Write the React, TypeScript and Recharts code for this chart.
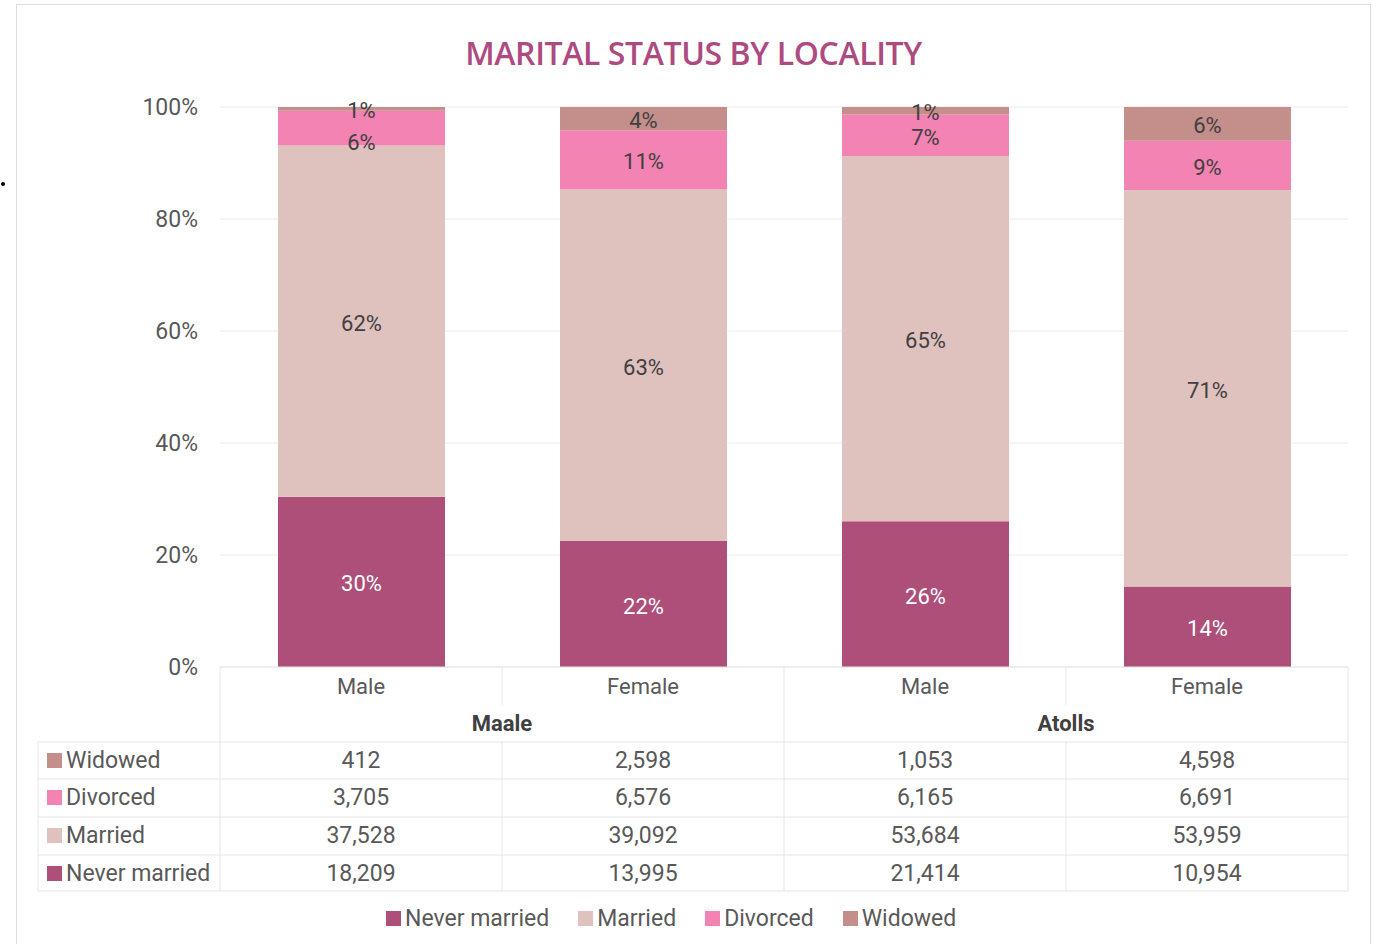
import React from 'react';
import {
  BarChart,
  Bar,
  XAxis,
  YAxis,
  CartesianGrid,
  Legend,
  LabelList
} from 'recharts';

const categories = ['Male', 'Female', 'Male', 'Female'];
const localities = ['Maale', 'Atolls'];

const neverMarried = [18209, 13995, 21414, 10954];
const married = [37528, 39092, 53684, 53959];
const divorced = [3705, 6576, 6165, 6691];
const widowed = [412, 2598, 1053, 4598];

// percentage labels as printed on the bars
const neverMarriedPct = ['30%', '22%', '26%', '14%'];
const marriedPct = ['62%', '63%', '65%', '71%'];
const divorcedPct = ['6%', '11%', '7%', '9%'];
const widowedPct = ['1%', '4%', '1%', '6%'];

const yTicks = [0, 0.2, 0.4, 0.6, 0.8, 1];

const COLORS = {
  never: '#ad4f78',
  married: '#dfc1be',
  divorced: '#f283b3',
  widowed: '#c48e8a'
};

const data = categories.map((name, i) => ({
  name,
  never: neverMarried[i],
  married: married[i],
  divorced: divorced[i],
  widowed: widowed[i],
  neverPct: neverMarriedPct[i],
  marriedPct: marriedPct[i],
  divorcedPct: divorcedPct[i],
  widowedPct: widowedPct[i]
}));

// table rows, top to bottom
const tableRows = [
  { label: 'Widowed', color: COLORS.widowed, values: widowed },
  { label: 'Divorced', color: COLORS.divorced, values: divorced },
  { label: 'Married', color: COLORS.married, values: married },
  { label: 'Never married', color: COLORS.never, values: neverMarried }
];

const legendItems = [
  { label: 'Never married', color: COLORS.never },
  { label: 'Married', color: COLORS.married },
  { label: 'Divorced', color: COLORS.divorced },
  { label: 'Widowed', color: COLORS.widowed }
];

const FONT = 'Roboto, sans-serif';
const TEXT = '#595959';
const LINE = '#e6e6e6';
const FS = 23;

const CHART_W = 1353;
const CHART_H = 939;
const Y_AXIS_W = 203;
const RIGHT_M = 22;
const SLOT = (CHART_W - Y_AXIS_W - RIGHT_M) / categories.length;
const LEFT_COL = 182;
const ROW_LINES = [75, 112, 150, 188, 224];
const ROW_TEXT = [93, 130, 168, 206];

const fmt = (v: number) => v.toLocaleString('en-US');

const TableTick = (props: any) => {
  const { x, y, payload } = props;
  const i = payload.index;
  const half = SLOT / 2;
  const left = x - half;
  const right = x + half;
  const bottom = y + ROW_LINES[ROW_LINES.length - 1];

  return (
    <g fontFamily={FONT}>
      <text x={x} y={y + 19} textAnchor="middle" dominantBaseline="central" fontSize={FS - 1} fill={TEXT}>
        {payload.value}
      </text>
      {i % 2 === 0 ? (
        <>
          <line x1={left} x2={left} y1={y} y2={bottom} stroke={LINE} />
          <text
            x={right}
            y={y + 56}
            textAnchor="middle"
            dominantBaseline="central"
            fontSize={FS - 1}
            fontWeight="bold"
            fill="#404040"
          >
            {localities[i / 2]}
          </text>
        </>
      ) : (
        <>
          <line x1={left} x2={left} y1={y} y2={y + 38} stroke={LINE} />
          <line x1={left} x2={left} y1={y + ROW_LINES[0]} y2={bottom} stroke={LINE} />
        </>
      )}
      {i === categories.length - 1 && (
        <line x1={right} x2={right} y1={y} y2={bottom} stroke={LINE} />
      )}
      {ROW_LINES.map((dy) => (
        <line key={dy} x1={left} x2={right} y1={y + dy} y2={y + dy} stroke={LINE} />
      ))}
      {tableRows.map((row, r) => (
        <text
          key={row.label}
          x={x}
          y={y + ROW_TEXT[r]}
          textAnchor="middle"
          dominantBaseline="central"
          fontSize={FS}
          fill={TEXT}
        >
          {fmt(row.values[i])}
        </text>
      ))}
      {i === 0 && (
        <g>
          <line x1={left - LEFT_COL} x2={left - LEFT_COL} y1={y + ROW_LINES[0]} y2={bottom} stroke={LINE} />
          {ROW_LINES.map((dy) => (
            <line key={dy} x1={left - LEFT_COL} x2={left} y1={y + dy} y2={y + dy} stroke={LINE} />
          ))}
          {tableRows.map((row, r) => (
            <g key={row.label}>
              <rect x={left - LEFT_COL + 9} y={y + ROW_TEXT[r] - 7} width={15} height={15} fill={row.color} />
              <text
                x={left - LEFT_COL + 28}
                y={y + ROW_TEXT[r]}
                dominantBaseline="central"
                fontSize={FS}
                fill={TEXT}
              >
                {row.label}
              </text>
            </g>
          ))}
        </g>
      )}
    </g>
  );
};

const LegendContent = () => (
  <div style={{ display: 'flex', gap: 29, fontFamily: FONT, fontSize: FS, color: TEXT }}>
    {legendItems.map((item) => (
      <div key={item.label} style={{ display: 'flex', alignItems: 'center' }}>
        <span style={{ width: 15, height: 15, background: item.color, marginRight: 4, display: 'inline-block' }} />
        {item.label}
      </div>
    ))}
  </div>
);

// bar label; thin segments under a thin top segment get pushed to their lower edge
const makeLabel = (fill: string, pushDown = false) => (props: any) => {
  const { x, y, width, height, value } = props;
  let cy = y + height / 2 + 2;
  if (pushDown && height < 40) cy = y + height - 3;
  return (
    <text
      x={x + width / 2}
      y={cy}
      textAnchor="middle"
      dominantBaseline="central"
      fontFamily={FONT}
      fontSize={22}
      fill={fill}
    >
      {value}
    </text>
  );
};

const App: React.FC = () => {
  return (
    <div>
      <div
        style={{
          position: 'absolute',
          left: 1,
          top: 182,
          width: 4,
          height: 4,
          borderRadius: 2,
          background: '#000'
        }}
      />
      <div
        style={{
          position: 'absolute',
          left: 16,
          top: 4,
          width: CHART_W,
          height: CHART_H,
          border: '1px solid #dcdcdc',
          borderBottom: 'none',
          background: '#fff'
        }}
      >
        <div
          style={{
            position: 'absolute',
            top: 26,
            width: '100%',
            textAlign: 'center',
            fontFamily: '"Open Sans", sans-serif',
            fontWeight: 600,
            fontSize: 32,
            color: '#ad4a7f',
            letterSpacing: -0.4,
            zIndex: 2
          }}
        >
          MARITAL STATUS BY LOCALITY
        </div>
        <BarChart
          width={CHART_W}
          height={CHART_H}
          data={data}
          stackOffset="expand"
          margin={{ top: 102, right: RIGHT_M, bottom: 47, left: 0 }}
        >
          <CartesianGrid vertical={false} stroke="#ebebeb" />
          <XAxis
            dataKey="name"
            height={230}
            tickSize={0}
            tickMargin={0}
            axisLine={{ stroke: LINE }}
            tickLine={false}
            interval={0}
            tick={<TableTick />}
          />
          <YAxis
            width={Y_AXIS_W}
            ticks={yTicks}
            domain={[0, 1]}
            tickFormatter={(v: number) => `${Math.round(v * 100)}%`}
            axisLine={false}
            tickLine={false}
            tickSize={0}
            tickMargin={22}
            tick={{ fontFamily: FONT, fontSize: FS, fill: TEXT }}
          />
          <Legend
            verticalAlign="middle"
            wrapperStyle={{ top: 900, left: 369, width: 660, height: 26 }}
            content={<LegendContent />}
          />
          <Bar dataKey="never" stackId="a" fill={COLORS.never} barSize={167} isAnimationActive={false}>
            <LabelList dataKey="neverPct" content={makeLabel('#ffffff')} />
          </Bar>
          <Bar dataKey="married" stackId="a" fill={COLORS.married} barSize={167} isAnimationActive={false}>
            <LabelList dataKey="marriedPct" content={makeLabel('#404040')} />
          </Bar>
          <Bar dataKey="divorced" stackId="a" fill={COLORS.divorced} barSize={167} isAnimationActive={false}>
            <LabelList dataKey="divorcedPct" content={makeLabel('#404040', true)} />
          </Bar>
          <Bar dataKey="widowed" stackId="a" fill={COLORS.widowed} barSize={167} isAnimationActive={false}>
            <LabelList dataKey="widowedPct" content={makeLabel('#404040')} />
          </Bar>
        </BarChart>
      </div>
    </div>
  );
};

export default App;
